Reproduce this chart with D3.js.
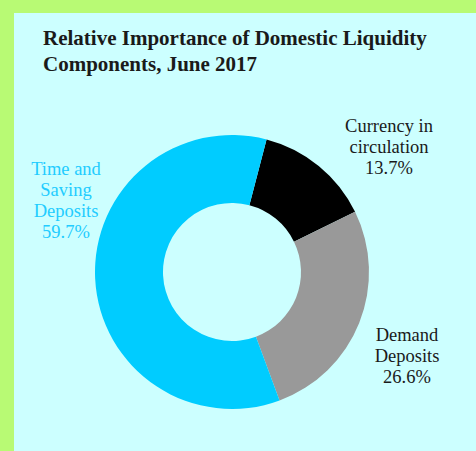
<!DOCTYPE html>
<html><head><meta charset="utf-8">
<script src="https://cdn.jsdelivr.net/npm/d3@7"></script>
<style>html,body{margin:0;padding:0;background:#b8fa74;overflow:hidden}</style>
</head><body>
<script>
const categories = ["Currency in circulation", "Demand Deposits", "Time and Saving Deposits"];
const values = [13.7, 26.6, 59.7];
const labelLines = [["Currency in", "circulation", "13.7%"], ["Demand", "Deposits", "26.6%"], ["Time and", "Saving", "Deposits", "59.7%"]];
const colors = ["#000000", "#999999", "#00ccff"];
const labelColors = ["#1a1a1a", "#1a1a1a", "#22ccff"];
const titleLines = ["Relative Importance of Domestic Liquidity", "Components, June 2017"];

const W = 476, H = 451;
const svg = d3.select("body").append("svg").attr("width", W).attr("height", H);
svg.append("rect").attr("x", 0).attr("y", 0).attr("width", W).attr("height", H).attr("fill", "#b8fa74");
svg.append("rect").attr("x", 14).attr("y", 13).attr("width", W - 14).attr("height", H - 13).attr("fill", "#ccffff");

svg.append("g").selectAll("text").data(titleLines).join("text")
  .attr("x", 43).attr("y", (d, i) => 44.5 + i * 26)
  .attr("font-family", "'Liberation Serif', 'Times New Roman', serif")
  .attr("font-weight", "bold").attr("font-size", 21).attr("fill", "#1a1a1a")
  .text(d => d);

const cx = 232, cy = 272, R = 137, r = 69;
const start = 0.255;
const pie = d3.pie().sort(null).value(d => d).startAngle(start).endAngle(start + 2 * Math.PI);
const arcs = pie(values);
const arc = d3.arc().innerRadius(r).outerRadius(R);
const g = svg.append("g").attr("transform", `translate(${cx},${cy})`);
g.selectAll("path").data(arcs).join("path").attr("d", arc).attr("fill", (d, i) => colors[i]);

const labelPos = [[389, 131.5], [407, 341], [66, 175]];
labelLines.forEach((lines, i) => {
  svg.append("g").selectAll("text").data(lines).join("text")
    .attr("x", labelPos[i][0]).attr("y", (d, j) => labelPos[i][1] + j * 21)
    .attr("text-anchor", "middle")
    .attr("font-family", "'Liberation Serif', 'Times New Roman', serif")
    .attr("font-size", 18.5).attr("fill", labelColors[i])
    .text(d => d);
});
</script>
</body></html>
